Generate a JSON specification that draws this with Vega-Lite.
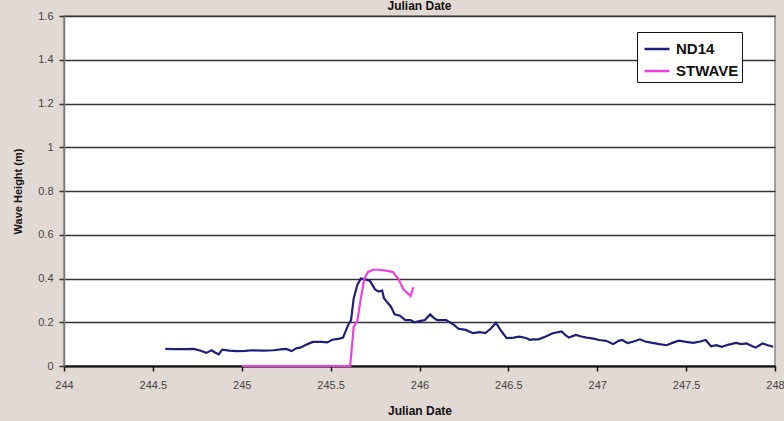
{
  "$schema": "https://vega.github.io/schema/vega-lite/v6.json",
  "width": 711,
  "height": 350,
  "autosize": {"type": "none"},
  "padding": {"left": 64, "top": 16, "right": 9, "bottom": 55},
  "background": "#e2d8d4",
  "title": {"text": "Julian Date", "fontSize": 12, "fontWeight": "bold", "font": "Liberation Sans", "color": "#111", "offset": 2, "dy": 5},
  "config": {
    "view": {"fill": "white", "stroke": "#888", "strokeWidth": 1.5},
    "axis": {"labelFont": "Liberation Sans", "titleFont": "Liberation Sans", "labelColor": "#444", "labelFontSize": 11, "titleFontSize": 12, "titleColor": "#111", "titleFontWeight": "bold"}
  },
  "data": {"values": [
    {"series": "ND14", "x": 244.57, "y": 0.078},
    {"series": "ND14", "x": 244.62, "y": 0.077},
    {"series": "ND14", "x": 244.68, "y": 0.077},
    {"series": "ND14", "x": 244.73, "y": 0.078},
    {"series": "ND14", "x": 244.77, "y": 0.07},
    {"series": "ND14", "x": 244.80, "y": 0.06},
    {"series": "ND14", "x": 244.83, "y": 0.072},
    {"series": "ND14", "x": 244.85, "y": 0.062},
    {"series": "ND14", "x": 244.87, "y": 0.053},
    {"series": "ND14", "x": 244.89, "y": 0.075},
    {"series": "ND14", "x": 244.93, "y": 0.07},
    {"series": "ND14", "x": 244.97, "y": 0.068},
    {"series": "ND14", "x": 245.02, "y": 0.069},
    {"series": "ND14", "x": 245.06, "y": 0.072},
    {"series": "ND14", "x": 245.12, "y": 0.07},
    {"series": "ND14", "x": 245.18, "y": 0.072},
    {"series": "ND14", "x": 245.23, "y": 0.077},
    {"series": "ND14", "x": 245.25, "y": 0.078},
    {"series": "ND14", "x": 245.28, "y": 0.068},
    {"series": "ND14", "x": 245.31, "y": 0.082},
    {"series": "ND14", "x": 245.33, "y": 0.084},
    {"series": "ND14", "x": 245.37, "y": 0.1},
    {"series": "ND14", "x": 245.40, "y": 0.11},
    {"series": "ND14", "x": 245.45, "y": 0.11},
    {"series": "ND14", "x": 245.48, "y": 0.108},
    {"series": "ND14", "x": 245.51, "y": 0.12},
    {"series": "ND14", "x": 245.55, "y": 0.125},
    {"series": "ND14", "x": 245.57, "y": 0.13},
    {"series": "ND14", "x": 245.60, "y": 0.19},
    {"series": "ND14", "x": 245.615, "y": 0.21},
    {"series": "ND14", "x": 245.63, "y": 0.31},
    {"series": "ND14", "x": 245.65, "y": 0.37},
    {"series": "ND14", "x": 245.67, "y": 0.40},
    {"series": "ND14", "x": 245.70, "y": 0.395},
    {"series": "ND14", "x": 245.72, "y": 0.39},
    {"series": "ND14", "x": 245.75, "y": 0.35},
    {"series": "ND14", "x": 245.77, "y": 0.34},
    {"series": "ND14", "x": 245.79, "y": 0.345},
    {"series": "ND14", "x": 245.80, "y": 0.31},
    {"series": "ND14", "x": 245.82, "y": 0.29},
    {"series": "ND14", "x": 245.84, "y": 0.27},
    {"series": "ND14", "x": 245.86, "y": 0.236},
    {"series": "ND14", "x": 245.89, "y": 0.23},
    {"series": "ND14", "x": 245.92, "y": 0.21},
    {"series": "ND14", "x": 245.95, "y": 0.21},
    {"series": "ND14", "x": 245.97, "y": 0.2},
    {"series": "ND14", "x": 246.0, "y": 0.205},
    {"series": "ND14", "x": 246.03, "y": 0.21},
    {"series": "ND14", "x": 246.06, "y": 0.236},
    {"series": "ND14", "x": 246.08, "y": 0.22},
    {"series": "ND14", "x": 246.1, "y": 0.21},
    {"series": "ND14", "x": 246.15, "y": 0.21},
    {"series": "ND14", "x": 246.19, "y": 0.19},
    {"series": "ND14", "x": 246.22, "y": 0.17},
    {"series": "ND14", "x": 246.26, "y": 0.165},
    {"series": "ND14", "x": 246.30, "y": 0.15},
    {"series": "ND14", "x": 246.34, "y": 0.155},
    {"series": "ND14", "x": 246.37, "y": 0.15},
    {"series": "ND14", "x": 246.40, "y": 0.17},
    {"series": "ND14", "x": 246.43, "y": 0.197},
    {"series": "ND14", "x": 246.46, "y": 0.16},
    {"series": "ND14", "x": 246.49, "y": 0.127},
    {"series": "ND14", "x": 246.53, "y": 0.13},
    {"series": "ND14", "x": 246.56, "y": 0.134},
    {"series": "ND14", "x": 246.6, "y": 0.128},
    {"series": "ND14", "x": 246.62, "y": 0.12},
    {"series": "ND14", "x": 246.64, "y": 0.122},
    {"series": "ND14", "x": 246.67, "y": 0.122},
    {"series": "ND14", "x": 246.71, "y": 0.135},
    {"series": "ND14", "x": 246.75, "y": 0.15},
    {"series": "ND14", "x": 246.80, "y": 0.158},
    {"series": "ND14", "x": 246.82, "y": 0.142},
    {"series": "ND14", "x": 246.84, "y": 0.13},
    {"series": "ND14", "x": 246.88, "y": 0.142},
    {"series": "ND14", "x": 246.91, "y": 0.135},
    {"series": "ND14", "x": 246.94, "y": 0.13},
    {"series": "ND14", "x": 246.98, "y": 0.125},
    {"series": "ND14", "x": 247.01, "y": 0.119},
    {"series": "ND14", "x": 247.05, "y": 0.115},
    {"series": "ND14", "x": 247.09, "y": 0.1},
    {"series": "ND14", "x": 247.12, "y": 0.115},
    {"series": "ND14", "x": 247.14, "y": 0.119},
    {"series": "ND14", "x": 247.17, "y": 0.105},
    {"series": "ND14", "x": 247.20, "y": 0.111},
    {"series": "ND14", "x": 247.24, "y": 0.122},
    {"series": "ND14", "x": 247.27, "y": 0.112},
    {"series": "ND14", "x": 247.31, "y": 0.106},
    {"series": "ND14", "x": 247.35, "y": 0.1},
    {"series": "ND14", "x": 247.39, "y": 0.095},
    {"series": "ND14", "x": 247.43, "y": 0.108},
    {"series": "ND14", "x": 247.46, "y": 0.116},
    {"series": "ND14", "x": 247.50, "y": 0.11},
    {"series": "ND14", "x": 247.54, "y": 0.106},
    {"series": "ND14", "x": 247.58, "y": 0.112},
    {"series": "ND14", "x": 247.61, "y": 0.119},
    {"series": "ND14", "x": 247.64, "y": 0.09},
    {"series": "ND14", "x": 247.67, "y": 0.095},
    {"series": "ND14", "x": 247.70, "y": 0.088},
    {"series": "ND14", "x": 247.74, "y": 0.098},
    {"series": "ND14", "x": 247.78, "y": 0.106},
    {"series": "ND14", "x": 247.81, "y": 0.1},
    {"series": "ND14", "x": 247.84, "y": 0.103},
    {"series": "ND14", "x": 247.89, "y": 0.084},
    {"series": "ND14", "x": 247.93, "y": 0.103},
    {"series": "ND14", "x": 247.96, "y": 0.095},
    {"series": "ND14", "x": 247.99, "y": 0.088},
    {"series": "STWAVE", "x": 245.0, "y": 0},
    {"series": "STWAVE", "x": 245.3, "y": 0},
    {"series": "STWAVE", "x": 245.61, "y": 0},
    {"series": "STWAVE", "x": 245.63, "y": 0.18},
    {"series": "STWAVE", "x": 245.65, "y": 0.205},
    {"series": "STWAVE", "x": 245.67, "y": 0.31},
    {"series": "STWAVE", "x": 245.69, "y": 0.40},
    {"series": "STWAVE", "x": 245.71, "y": 0.43},
    {"series": "STWAVE", "x": 245.74, "y": 0.44},
    {"series": "STWAVE", "x": 245.77, "y": 0.44},
    {"series": "STWAVE", "x": 245.82, "y": 0.435},
    {"series": "STWAVE", "x": 245.85, "y": 0.43},
    {"series": "STWAVE", "x": 245.88, "y": 0.40},
    {"series": "STWAVE", "x": 245.91, "y": 0.35},
    {"series": "STWAVE", "x": 245.95, "y": 0.32},
    {"series": "STWAVE", "x": 245.965, "y": 0.36}
  ]},
  "mark": {"type": "line", "strokeWidth": 2.2, "clip": false},
  "encoding": {
    "x": {"field": "x", "type": "quantitative", "scale": {"domain": [244, 248], "nice": false, "zero": false},
      "axis": {"title": "Julian Date", "values": [244, 244.5, 245, 245.5, 246, 246.5, 247, 247.5, 248], "format": "~g", "grid": false, "domainColor": "#111", "domainWidth": 2, "tickColor": "#111", "tickSize": 5, "tickWidth": 1.5, "labelPadding": 8, "titlePadding": 15, "labelFlush": false}},
    "y": {"field": "y", "type": "quantitative", "scale": {"domain": [0, 1.6], "nice": false},
      "axis": {"title": "Wave Height (m)", "values": [0, 0.2, 0.4, 0.6, 0.8, 1, 1.2, 1.4, 1.6], "format": "~g", "grid": true, "gridColor": "#333", "gridWidth": 1.5, "domainColor": "#777", "domainWidth": 1.5, "tickColor": "#333", "tickSize": 5, "tickWidth": 1.5, "labelPadding": 6, "titlePadding": 14, "titleFontSize": 11, "labelFlush": false}},
    "color": {"field": "series", "type": "nominal", "scale": {"domain": ["ND14", "STWAVE"], "range": ["#1f1f78", "#ee3ee0"]},
      "legend": {"title": null, "orient": "none", "legendX": 573, "legendY": 16, "symbolType": "stroke", "symbolSize": 625, "symbolOffset": 3, "symbolStrokeWidth": 2.5, "labelFont": "Liberation Sans", "labelFontSize": 15, "labelFontWeight": "bold", "labelColor": "#111", "strokeColor": "#111", "fillColor": "white", "padding": 3, "rowPadding": -3, "labelOffset": 5}}
  }
}
